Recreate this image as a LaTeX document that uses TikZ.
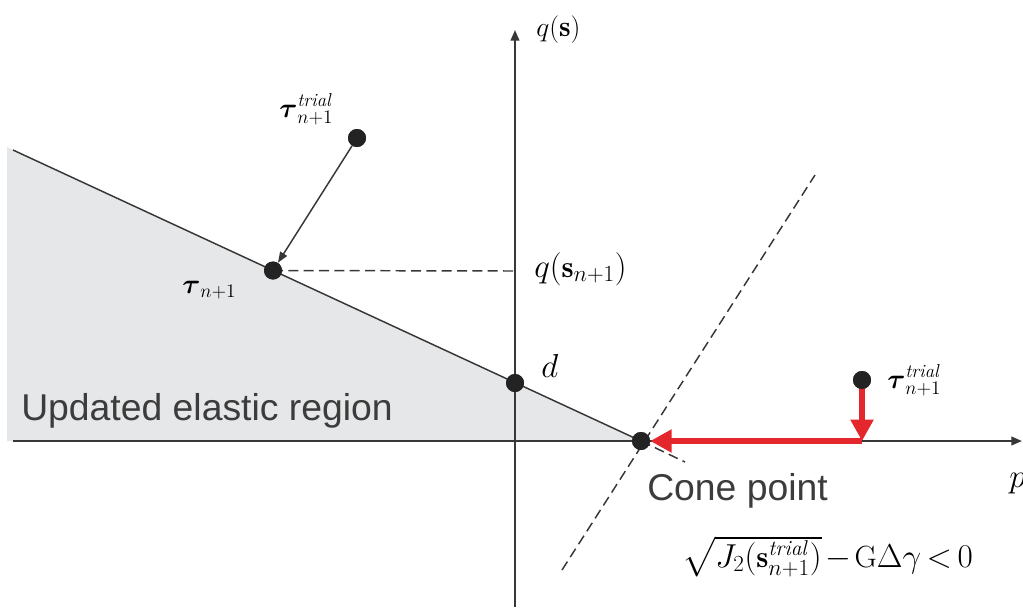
\documentclass[tikz,border=0pt]{standalone}
\usepackage{amsmath}
\usepackage{fontspec}
\newfontfamily\arialf{Liberation Sans}
\usetikzlibrary{arrows.meta}
\definecolor{axiscol}{RGB}{55,55,55}
\definecolor{regionfill}{RGB}{230,231,232}
\definecolor{projred}{RGB}{228,38,45}
\definecolor{dotcol}{RGB}{35,35,35}
\definecolor{sanscol}{RGB}{60,60,60}
\begin{document}
\begin{tikzpicture}[x=0.75pt,y=-0.75pt,
  axisline/.style={draw=axiscol,line width=1.5pt,-{Triangle[length=8pt,width=6.5pt]}},
  yieldline/.style={draw=axiscol,line width=1.1pt},
  dashline/.style={draw=axiscol,line width=1.1pt,dash pattern=on 7.5pt off 4pt},
  pointdot/.style={circle,fill=dotcol,inner sep=0pt,minimum size=13.5pt},
  redarrow/.style={draw=projred,line width=3.8pt,-{Triangle[length=16pt,width=16.5pt]}},
  blackarrow/.style={draw=axiscol,line width=1.1pt,-{Triangle[length=8pt,width=6pt]}},
  mathlbl/.style={inner sep=0pt,text=black},
  sanslbl/.style={inner sep=0pt,font=\arialf\fontsize{28}{32}\selectfont,text=sanscol}]
\useasboundingbox (0,0) rectangle (1023,607);
% coordinates
\coordinate (L) at (13,150);
\coordinate (FL) at (7,147);
\coordinate (FB) at (7,441);
\coordinate (xs) at (13,441);
\coordinate (xe) at (1022,441);
\coordinate (ys) at (515,607);
\coordinate (ye) at (515,30);
\coordinate (qmark) at (515,271);
\coordinate (ext) at (685,462);
\coordinate (sd1) at (562,570);
\coordinate (sd2) at (815,175);
\coordinate (footB) at (862,441);
% region
\fill[regionfill] (FL) -- (641,441) -- (FB) -- cycle;
% axes
\draw[axisline] (xs) -- (xe);
\draw[axisline] (ys) -- (ye);
% points
\node[pointdot] (tauP) at (273,270.5) {};
\node[pointdot] (dP) at (515,383) {};
\node[pointdot] (cone) at (641,441) {};
\node[pointdot] (trialA) at (357,138) {};
\node[pointdot] (trialB) at (862,380) {};
% lines
\draw[dashline] (sd1) -- (sd2);
\draw[dashline] (cone.center) -- (ext);
\draw[dashline] (tauP.center) -- (qmark);
\draw[yieldline] (L) -- (cone.center);
\draw[blackarrow] (trialA) -- (tauP);
\draw[redarrow] (trialB.center) -- (footB);
\draw[redarrow] (footB) -- (cone);
% redraw dots on top
\node[pointdot] at (tauP) {};
\node[pointdot] at (dP) {};
\node[pointdot] at (cone) {};
\node[pointdot] at (trialA) {};
\node[pointdot] at (trialB) {};
% labels
\node[mathlbl,font=\fontsize{22}{25}\selectfont,anchor=base west] (lqs) at (536,36) {$q(\mathbf{s})$};
\node[mathlbl,font=\fontsize{23}{26}\selectfont,anchor=base west] (lqsn) at (534,277) {$q(\mathbf{s}_{n+1})$};
\node[mathlbl,font=\fontsize{24}{27}\selectfont,anchor=base west] (ld) at (541,377) {$d$};
\node[mathlbl,font=\fontsize{20}{23}\selectfont,anchor=base west] (ltau) at (182,293) {$\boldsymbol{\tau}_{n+1}$};
\node[mathlbl,font=\fontsize{20}{23}\selectfont,anchor=base west] (ltrA) at (279,117) {$\boldsymbol{\tau}^{\mathit{trial}}_{n+1}$};
\node[mathlbl,font=\fontsize{20}{23}\selectfont,anchor=base west] (ltrB) at (887,388) {$\boldsymbol{\tau}^{\mathit{trial}}_{n+1}$};
\node[mathlbl,font=\fontsize{24}{27}\selectfont,anchor=base west] (lp) at (1009,487) {$p$};
\node[mathlbl,font=\fontsize{23}{26}\selectfont,anchor=base west] (lcond) at (682,567) {\medmuskip=2mu\thickmuskip=3mu$\sqrt{J_2(\mathbf{s}^{\mathit{trial}}_{n+1})}-\mathrm{G}\Delta\gamma<0$};
\node[sanslbl,anchor=base west] (lreg) at (21,420) {Updated elastic region};
\node[sanslbl,anchor=base west] (lcone) at (647,500) {Cone point};
\end{tikzpicture}
\end{document}
